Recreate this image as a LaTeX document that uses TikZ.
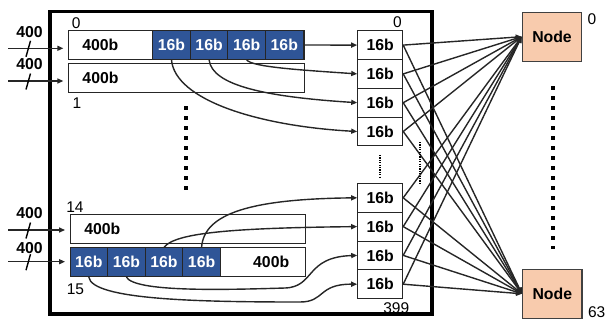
\documentclass[tikz,border=0pt]{standalone}
\usepackage{fontspec}
\setmainfont{Liberation Sans}
\usetikzlibrary{arrows.meta}
\definecolor{cellblue}{HTML}{2F5597}
\definecolor{peach}{HTML}{F8CBAD}
\definecolor{linegray}{HTML}{262626}
\begin{document}
\begin{tikzpicture}[x=1pt,y=-1pt,
  bigfont/.style={font=\fontsize{15.8}{18}\selectfont\bfseries},
  numfont/.style={font=\fontsize{15.5}{18}\selectfont},
  rowbox/.style={draw=linegray,line width=1pt,fill=white,minimum width=235.7pt,minimum height=28.8pt,inner sep=0pt},
  cell/.style={draw=linegray,line width=1pt,fill=cellblue,text=white,bigfont,minimum width=37.6pt,minimum height=28.8pt,inner sep=0pt},
  sbox/.style={draw=linegray,line width=1pt,fill=white,bigfont,minimum width=45pt,minimum height=28.8pt,inner sep=0pt},
  nodebox/.style={draw=black!75,line width=1.2pt,fill=peach,bigfont,minimum width=59.5pt,minimum height=49pt,inner sep=0pt},
  lbl/.style={bigfont,inner sep=0pt},
  num/.style={numfont,inner sep=0pt},
  arr/.style={-{Triangle[length=6pt,width=5pt]},line width=1.4pt,draw=linegray},
  bigdots/.style={line width=4pt,dash pattern=on 4pt off 6pt},
  smalldots/.style={line width=1.2pt,dash pattern=on 1.2pt off 1.2pt}
]
\useasboundingbox (0,0) rectangle (612,321);
% frame
\draw[line width=3.6pt] (49.7,11.7) rectangle (432.2,314.2);

% rows
\node[rowbox] (r0) at (186.2,45) {};
\node[rowbox] (r1) at (186.2,77.8) {};
\node[rowbox] (r14) at (187.9,228.8) {};
\node[rowbox] (r15) at (187.9,262.2) {};
\node[lbl] (t0) at (100.3,45) {400b};
\node[lbl] (t1) at (100.5,77.8) {400b};
\node[lbl] (t14) at (102.3,228.8) {400b};
\node[lbl] (t15) at (271.2,262.2) {400b};
% blue cells
\node[cell] (c0a) at (171.5,45) {16b};
\node[cell] (c0b) at (209.1,45) {16b};
\node[cell] (c0c) at (246.7,45) {16b};
\node[cell] (c0d) at (284.3,45) {16b};
\node[cell] (c15a) at (88.8,262.2) {16b};
\node[cell] (c15b) at (126.4,262.2) {16b};
\node[cell] (c15c) at (164.0,262.2) {16b};
\node[cell] (c15d) at (201.6,262.2) {16b};
% row labels
\node[num] (l0) at (76.3,23) {0};
\node[num] (l1) at (77,103) {1};
\node[num] (l14) at (75,206.7) {14};
\node[num] (l15) at (75.5,289.5) {15};

% right column
\node[sbox] (b0) at (380.2,45.1) {16b};
\node[sbox] (b1) at (380.2,73.9) {16b};
\node[sbox] (b2) at (380.2,102.7) {16b};
\node[sbox] (b3) at (380.2,131.5) {16b};
\node[sbox] (bb0) at (380.2,197.8) {16b};
\node[sbox] (bb1) at (380.2,226.6) {16b};
\node[sbox] (bb2) at (380.2,255.4) {16b};
\node[sbox] (bb3) at (380.2,284.2) {16b};
\node[num] (lb0) at (397.5,22) {0};
\node[num] (lb399) at (396.3,308.5) {399};

% nodes
\node[nodebox] (n0) at (552,36.7) {Node};
\node[nodebox] (n63) at (552.3,293.8) {Node};
\node[num] (ln0) at (592,19.5) {0};
\node[num] (ln63) at (596.7,312) {63};

% inputs
\foreach \r/\y/\ly in {r0/48.3/32.5, r1/81/64.5, r14/230/213, r15/261.7/248.3}{
  \coordinate (in\r) at (8,\y);
  \draw[arr,shorten >=4.5pt] (in\r) -- (in\r -| \r.west);
  \draw[line width=1.4pt] (26,\y+8.5) -- (30.5,\y-7.5);
  \node[lbl] at (29.5,\ly) {400};
}

% row 0 to right column
\draw[arr] (c0d.east) -- (b0.west);
\draw[arr] (c0c.south) .. controls (252,67) and (300,70) .. (b1.west);
\draw[arr] (c0b.south) .. controls (212,86) and (268,97) .. (b2.west);
\draw[arr] (c0a.south) .. controls (175,100) and (258,126) .. (b3.west);
% row 15 to right column
\draw[arr] (c15d.north) .. controls (204,213) and (252,199) .. (bb0.west);
\draw[arr] (c15c.north) .. controls (175,233) and (230,228) .. (bb1.west);
\coordinate (m1) at (285,288);
\coordinate (m2) at (300,302);
\draw[arr] (c15b.south) .. controls (135,292) and (220,290) .. (m1)
  .. controls (315,287) and (305,257) .. (bb2.west);
\draw[arr] (c15a.south) .. controls (92,300) and (200,302) .. (m2)
  .. controls (325,302) and (318,284) .. (bb3.west);

% crossbar
\foreach \b in {b0,b1,b2,b3,bb0,bb1,bb2,bb3}{
  \draw[arr] (\b.east) -- (n0.west);
  \draw[arr] (\b.east) -- (n63.west);
}

% dots
\draw[bigdots] (186,106) -- (186,190);
\draw[bigdots] (552.5,86) -- (552.5,249);
\draw[smalldots] (380,155) -- (380,177);
\draw[smalldots] (420,142) -- (420,183);
\end{tikzpicture}
\end{document}
